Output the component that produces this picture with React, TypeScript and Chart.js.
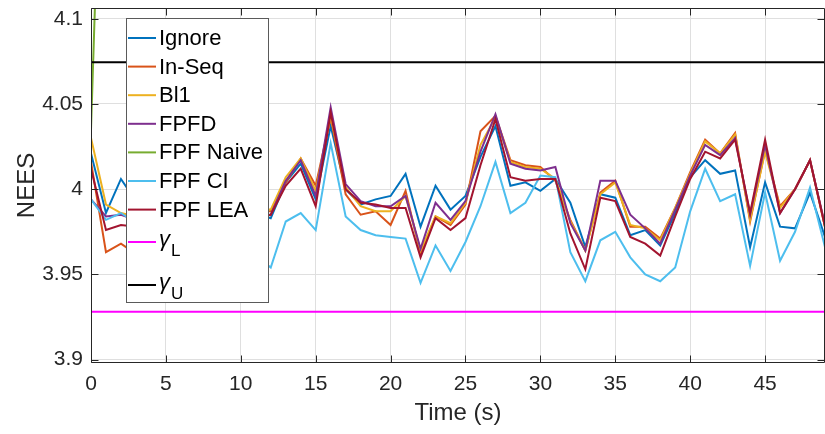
import React, { useEffect, useRef } from "react";
import { Chart, registerables } from "chart.js";
Chart.register(...registerables);

const time = [0,1,2,3,4,5,6,7,8,9,10,11,12,13,14,15,16,17,18,19,20,21,22,23,24,25,26,27,28,29,30,31,32,33,34,35,36,37,38,39,40,41,42,43,44,45,46,47,48,49];

const ignore = [4.021,3.986,4.006,3.993,3.990,3.988,3.991,3.989,3.987,3.990,3.988,3.986,3.983,4.004,4.015,3.994,4.037,4.000,3.991,3.994,3.996,4.009,3.978,4.002,3.988,3.996,4.019,4.037,4.002,4.004,3.999,4.006,3.992,3.966,3.997,3.995,3.973,3.976,3.967,3.986,4.007,4.017,4.009,4.011,3.966,4.004,3.978,3.977,3.998,3.972];
const inSeq = [4.016,3.963,3.968,3.962,3.970,3.975,3.972,3.978,3.980,3.982,3.985,3.987,3.987,4.004,4.018,4.002,4.042,3.997,3.985,3.987,3.979,3.999,3.962,3.984,3.979,3.991,4.034,4.043,4.017,4.014,4.013,4.005,3.982,3.964,3.998,4.005,3.978,3.978,3.971,3.989,4.010,4.029,4.021,4.033,3.981,4.023,3.990,4.000,4.017,3.978];
const bl1 = [4.030,3.991,3.986,3.984,3.982,3.985,3.987,3.986,3.984,3.985,3.987,3.988,3.988,4.007,4.018,3.999,4.043,4.001,3.990,3.987,3.987,3.996,3.964,3.984,3.980,3.992,4.026,4.042,4.016,4.013,4.012,4.006,3.981,3.964,3.997,4.004,3.979,3.977,3.970,3.989,4.009,4.028,4.021,4.032,3.982,4.022,3.989,4.000,4.017,3.978];
const fpfd = [3.994,3.984,3.985,3.982,3.985,3.984,3.986,3.983,3.985,3.984,3.986,3.985,3.985,4.005,4.017,3.996,4.048,4.003,3.993,3.990,3.990,3.996,3.965,3.992,3.982,3.993,4.022,4.044,4.015,4.012,4.011,4.013,3.980,3.964,4.005,4.005,3.985,3.977,3.968,3.988,4.008,4.026,4.020,4.030,3.985,4.026,3.986,4.000,4.017,3.979];
const fpfNaive = [4.035,4.31];
const fpfCI = [3.994,3.982,3.986,3.980,3.975,3.970,3.968,3.965,3.966,3.964,3.963,3.961,3.954,3.981,3.986,3.976,4.027,3.984,3.976,3.973,3.972,3.971,3.945,3.967,3.952,3.969,3.990,4.016,3.986,3.992,4.008,4.007,3.963,3.946,3.970,3.975,3.960,3.950,3.946,3.954,3.987,4.012,3.993,3.997,3.955,3.998,3.958,3.975,4.001,3.966];
const fpfLEA = [4.012,3.976,3.979,3.978,3.982,3.980,3.983,3.984,3.982,3.985,3.983,3.984,3.985,4.002,4.012,3.990,4.045,4.000,3.992,3.991,3.989,3.989,3.960,3.983,3.976,3.983,4.014,4.041,4.007,4.005,4.006,4.006,3.974,3.953,3.995,3.993,3.972,3.968,3.961,3.984,4.006,4.022,4.018,4.029,3.986,4.029,3.986,4.000,4.017,3.978];
const gammaL = 3.928;
const gammaU = 4.0745;

const xTicks = [0,5,10,15,20,25,30,35,40,45];
const yTicks = [3.9,3.95,4,4.05,4.1];

const seriesNames = ["Ignore","In-Seq","Bl1","FPFD","FPF Naive","FPF CI","FPF LEA"];
const seriesData = [ignore, inSeq, bl1, fpfd, fpfNaive, fpfCI, fpfLEA];
const seriesColors = ["#0072BD","#D95319","#EDB120","#7E2F8E","#77AC30","#4DBEEE","#A2142F"];
const gammaColors = ["#FF00FF","#000000"];

const FONT = '"Liberation Sans", Arial, Helvetica, sans-serif';
const AX = "#262626";

const axesBoxPlugin = {
  id: "axesBox",
  afterDatasetsDraw(chart: any) {
    const { ctx, chartArea } = chart;
    const { left, right, top, bottom } = chartArea;
    const xs = chart.scales.x;
    const ys = chart.scales.y;
    const L = Math.round(left) + 0.5;
    const R = Math.round(right) - 0.5;
    const T = Math.round(top) + 0.5;
    const B = Math.round(bottom) - 0.5;
    ctx.save();
    ctx.strokeStyle = AX;
    ctx.lineWidth = 1;
    ctx.beginPath();
    ctx.moveTo(L, T); ctx.lineTo(L, B); ctx.lineTo(R, B); ctx.lineTo(R, T); ctx.lineTo(L, T);
    const tl = 7;
    for (const v of xTicks) {
      const px = Math.round(xs.getPixelForValue(v)) + 0.5;
      ctx.moveTo(px, B); ctx.lineTo(px, B - tl);
      ctx.moveTo(px, T); ctx.lineTo(px, T + tl);
    }
    for (const v of yTicks) {
      const py = Math.round(ys.getPixelForValue(v)) + 0.5;
      ctx.moveTo(L, py); ctx.lineTo(L + tl, py);
      ctx.moveTo(R, py); ctx.lineTo(R - tl, py);
    }
    ctx.stroke();
    ctx.restore();
  },
};

const legendPlugin = {
  id: "customLegend",
  afterDraw(chart: any) {
    const ctx = chart.ctx;
    const bx = 126, by = 18, bw = 142, bh = 284;
    ctx.save();
    ctx.fillStyle = "#ffffff";
    ctx.fillRect(bx, by, bw, bh);
    ctx.strokeStyle = "#5a5a5a";
    ctx.lineWidth = 1;
    ctx.strokeRect(bx + 0.5, by + 0.5, bw, bh);
    const lx0 = 128, lx1 = 156, tx = 159;
    ctx.font = `22px ${FONT}`;
    ctx.textBaseline = "middle";
    ctx.textAlign = "left";
    for (let i = 0; i < seriesNames.length; i++) {
      const yy = 38 + i * 28.6;
      ctx.strokeStyle = seriesColors[i];
      ctx.lineWidth = 2;
      ctx.beginPath(); ctx.moveTo(lx0, yy); ctx.lineTo(lx1, yy); ctx.stroke();
      ctx.fillStyle = "#000";
      ctx.fillText(seriesNames[i], tx, yy + 1);
    }
    const gRows = [{ y: 242, sub: "L" }, { y: 285, sub: "U" }];
    gRows.forEach((g, i) => {
      ctx.strokeStyle = gammaColors[i];
      ctx.lineWidth = 2;
      ctx.beginPath(); ctx.moveTo(lx0, g.y); ctx.lineTo(lx1, g.y); ctx.stroke();
      ctx.fillStyle = "#000";
      ctx.font = `italic 22px ${FONT}`;
      ctx.fillText("γ", tx, g.y - 2);
      const w = ctx.measureText("γ").width;
      ctx.font = `17px ${FONT}`;
      ctx.fillText(g.sub, tx + w + 1, g.y + 9);
    });
    ctx.restore();
  },
};

export default function App() {
  const ref = useRef<HTMLCanvasElement | null>(null);
  useEffect(() => {
    document.body.style.margin = "0";
    const canvas = ref.current!;
    const datasets: any[] = seriesData.map((arr, i) => ({
      label: seriesNames[i],
      data: arr.map((v, j) => ({ x: time[j], y: v })),
      borderColor: seriesColors[i],
      backgroundColor: seriesColors[i],
      borderWidth: 2,
      pointRadius: 0,
      tension: 0,
      fill: false,
      order: -i,
    }));
    datasets.push({
      label: "γL",
      data: [{ x: time[0], y: gammaL }, { x: time[time.length - 1], y: gammaL }],
      borderColor: gammaColors[0], borderWidth: 2, pointRadius: 0, order: -7,
    });
    datasets.push({
      label: "γU",
      data: [{ x: time[0], y: gammaU }, { x: time[time.length - 1], y: gammaU }],
      borderColor: gammaColors[1], borderWidth: 2, pointRadius: 0, order: -8,
    });
    const chart = new Chart(canvas, {
      type: "line",
      data: { datasets },
      options: {
        responsive: false,
        animation: false,
        devicePixelRatio: 1,
        layout: { padding: { top: 8, right: 0, left: 0, bottom: 0 } },
        plugins: { legend: { display: false }, tooltip: { enabled: false } },
        scales: {
          x: {
            type: "linear",
            min: 0,
            max: 49,
            afterBuildTicks: (s: any) => { s.ticks = xTicks.map((v) => ({ value: v })); },
            afterFit: (s: any) => { s.height = 71; s.paddingLeft = 0; s.paddingRight = 0; },
            grid: { color: "#dfdfdf", drawTicks: false, lineWidth: 1 },
            border: { display: false },
            ticks: {
              color: AX, padding: 9, maxRotation: 0, autoSkip: false,
              font: { family: FONT, size: 21 },
              callback: (v: any) => String(v),
            },
            title: {
              display: true, text: "Time (s)", color: AX,
              font: { family: FONT, size: 24 },
              padding: { top: 0, bottom: 6 },
            },
          },
          y: {
            type: "linear",
            min: 3.898,
            max: 4.1063,
            afterBuildTicks: (s: any) => { s.ticks = yTicks.map((v) => ({ value: v })); },
            afterFit: (s: any) => { s.width = 91; s.paddingTop = 0; s.paddingBottom = 0; },
            grid: { color: "#dfdfdf", drawTicks: false, lineWidth: 1 },
            border: { display: false },
            ticks: {
              color: AX, padding: 8, autoSkip: false,
              font: { family: FONT, size: 21 },
              callback: (v: any) => String(Number(Number(v).toFixed(2))),
            },
            title: {
              display: true, text: "NEES", color: AX,
              font: { family: FONT, size: 24 },
              padding: { top: 13, bottom: 0 },
            },
          },
        },
      },
      plugins: [axesBoxPlugin, legendPlugin],
    });
    return () => chart.destroy();
  }, []);
  return (
    <div style={{ width: 825, height: 434, background: "#fff" }}>
      <canvas ref={ref} width={825} height={434} style={{ display: "block" }} />
    </div>
  );
}
